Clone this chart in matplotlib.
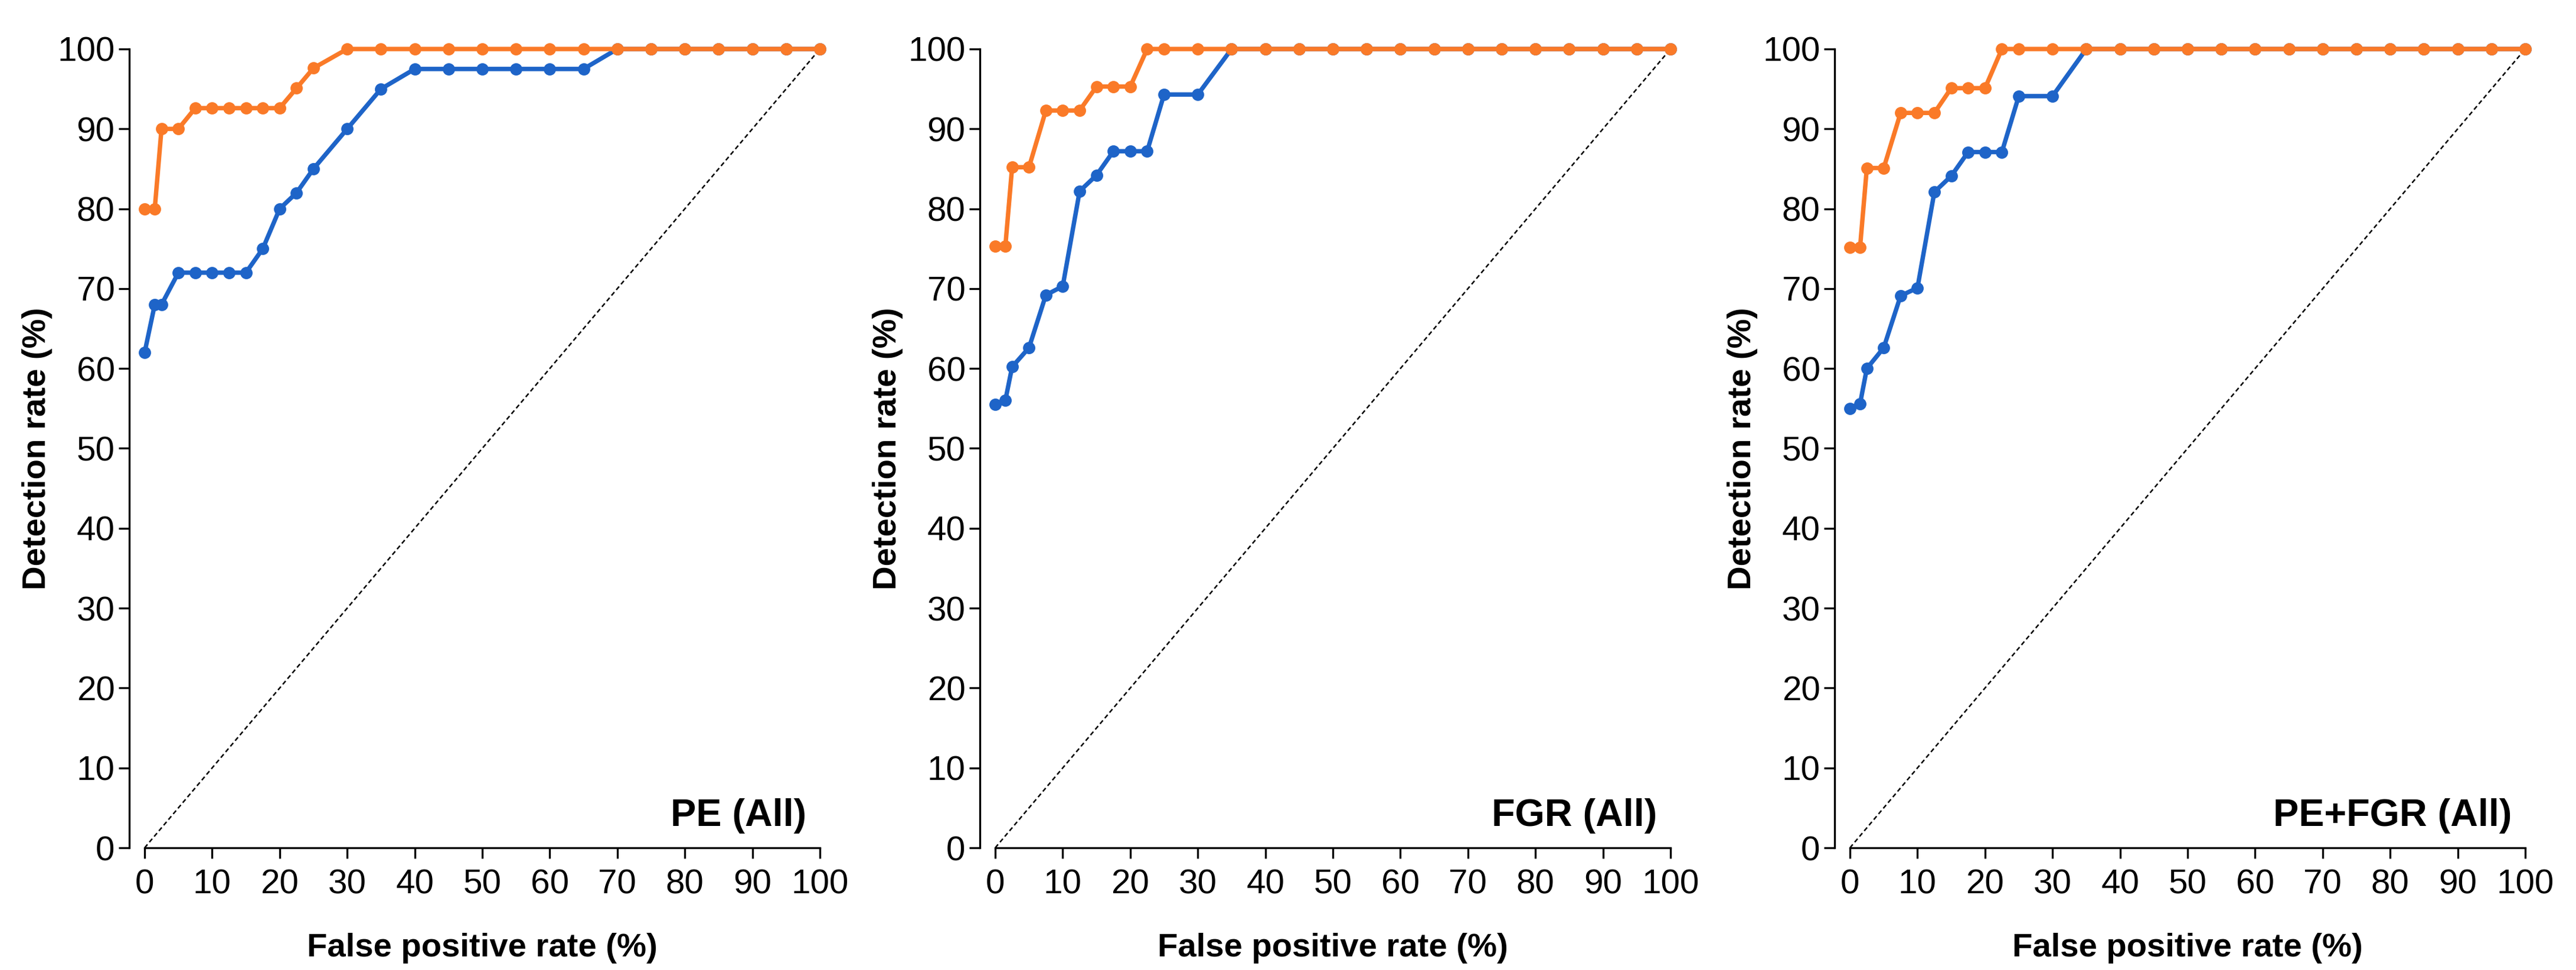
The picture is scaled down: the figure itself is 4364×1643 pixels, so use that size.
import numpy as np
import matplotlib
matplotlib.use('Agg')
import matplotlib.pyplot as plt

plt.rcParams['font.family'] = ['Liberation Sans', 'DejaVu Sans']

# --- data ---
fpr = [0, 1.5, 2.5, 5, 7.5, 10, 12.5, 15, 17.5, 20, 22.5, 25,
       30, 35, 40, 45, 50, 55, 60, 65, 70, 75, 80, 85, 90, 95, 100]

pe_blue = [62, 68, 68, 72, 72, 72, 72, 72, 75, 80, 82, 85,
           90, 95, 97.5, 97.5, 97.5, 97.5, 97.5, 97.5, 100, 100, 100, 100, 100, 100, 100]
pe_orange = [80, 80, 90, 90, 92.6, 92.6, 92.6, 92.6, 92.6, 92.6, 95.1, 97.6,
             100, 100, 100, 100, 100, 100, 100, 100, 100, 100, 100, 100, 100, 100, 100]

fgr_blue = [55.5, 56, 60.2, 62.6, 69.2, 70.3, 82.2, 84.2, 87.2, 87.2, 87.2, 94.3,
            94.3, 100, 100, 100, 100, 100, 100, 100, 100, 100, 100, 100, 100, 100, 100]
fgr_orange = [75.3, 75.3, 85.2, 85.2, 92.3, 92.3, 92.3, 95.3, 95.3, 95.3, 100, 100,
              100, 100, 100, 100, 100, 100, 100, 100, 100, 100, 100, 100, 100, 100, 100]

both_blue = [55, 55.6, 60, 62.6, 69.1, 70.1, 82.1, 84.1, 87.1, 87.1, 87.1, 94.1,
             94.1, 100, 100, 100, 100, 100, 100, 100, 100, 100, 100, 100, 100, 100, 100]
both_orange = [75.2, 75.2, 85.1, 85.1, 92, 92, 92, 95.1, 95.1, 95.1, 100, 100,
               100, 100, 100, 100, 100, 100, 100, 100, 100, 100, 100, 100, 100, 100, 100]

panel_names = ['PE (All)', 'FGR (All)', 'PE+FGR (All)']
blue_series = [pe_blue, fgr_blue, both_blue]
orange_series = [pe_orange, fgr_orange, both_orange]

ticks = [0, 10, 20, 30, 40, 50, 60, 70, 80, 90, 100]

BLUE = '#1E64C8'
ORANGE = '#FA7A28'

W, H = 4364, 1643
fig = plt.figure(figsize=(W / 300, H / 300), dpi=300)

lefts = [245, 1686, 3134]
for i in range(3):
    ax = fig.add_axes([lefts[i] / W, 207 / H, 1144 / W, 1353 / H])
    # chance line
    ax.plot([0, 100], [0, 100], color='black', lw=0.6, ls=(0, (3, 2)), zorder=1)
    ax.plot(fpr, blue_series[i], color=BLUE, lw=1.8, marker='o', ms=4.0,
            clip_on=False, zorder=3)
    ax.plot(fpr, orange_series[i], color=ORANGE, lw=1.8, marker='o', ms=4.0,
            clip_on=False, zorder=4)

    ax.set_xlim(0, 100)
    ax.set_ylim(0, 100)
    ax.set_xticks(ticks)
    ax.set_yticks(ticks)
    for s in ['top', 'right']:
        ax.spines[s].set_visible(False)
    ax.spines['left'].set_position(('outward', 6.2))
    ax.spines['left'].set_linewidth(0.8)
    ax.spines['bottom'].set_linewidth(0.8)
    ax.tick_params(axis='both', direction='out', length=4.3, width=0.8, labelsize=14)
    ax.tick_params(axis='x', pad=4.3)
    ax.tick_params(axis='y', pad=1.6)

    ax.set_xlabel('False positive rate (%)', fontsize=13.5, fontweight='bold', labelpad=13)
    ax.set_ylabel('Detection rate (%)', fontsize=13.5, fontweight='bold', labelpad=2)
    ax.text(98, 2.7, panel_names[i], ha='right', va='baseline',
            fontsize=15.5, fontweight='bold')

fig.savefig('out.png', dpi=300)
